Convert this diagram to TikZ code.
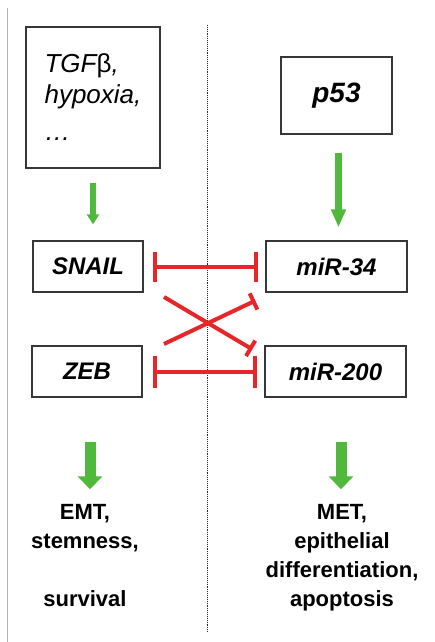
\documentclass[tikz,border=0pt]{standalone}
\usepackage{fontspec}
\setmainfont{Liberation Sans}
\usetikzlibrary{arrows.meta,calc}
\definecolor{actgreen}{RGB}{80,184,58}
\definecolor{inhred}{RGB}{230,38,40}
\definecolor{boxline}{RGB}{55,55,55}
\begin{document}
\begin{tikzpicture}[x=1pt,y=-1pt,
  box/.style={draw=boxline, line width=1.3pt, inner sep=0pt, fill=white},
  gene/.style={box, minimum height=51pt,
    font=\bfseries\itshape\fontsize{24}{28}\selectfont},
  outcome/.style={align=center, inner sep=0pt, anchor=north,
    font=\bfseries\fontsize{22}{29}\selectfont},
  actarrow/.style={draw=actgreen, line width=#1},
  inhib/.style={draw=inhred, line width=4pt},
]
\useasboundingbox[fill=white] (0,0) rectangle (434,642);

% frame edge and the dividing line
\draw[black!30, line width=1pt] (7,8) -- (7,642);
\draw[black!85, densely dotted, line width=0.9pt] (207,25) -- (207,632);

% upstream signals
\node[box, minimum width=134pt, minimum height=141pt, align=left,
      font=\itshape\fontsize{26}{31}\selectfont]
  (tgf) at (93,97.5) {TGF{\upshape β},\\hypoxia,\\[6pt]…};
\node[box, minimum width=111pt, minimum height=77pt,
      font=\bfseries\itshape\fontsize{28}{32}\selectfont]
  (p53) at (336.5,95.5) {p53};

% core loop
\node[gene, minimum width=110pt] (snail) at (88,266.5) {SNAIL};
\node[gene, minimum width=141pt] (mir34) at (336.5,266.5) {miR-34};
\node[gene, minimum width=110pt] (zeb) at (87,371.5) {ZEB};
\node[gene, minimum width=141pt] (mir200) at (335.5,371.5) {miR-200};

% outcomes
\node[outcome] (emt) at (85,504.3) {EMT,\\stemness,\\[29pt]survival};
\node[outcome] (met) at (342,504.3) {MET,\\epithelial\\differentiation,\\apoptosis};

% activation arrows
\draw[actgreen, line width=5.5pt, -{Triangle[width=12pt,length=10pt]},
      shorten <=14pt, shorten >=16pt]
  (tgf.south) -- (tgf.south |- snail.north);
\draw[actgreen, line width=7pt, -{Triangle[width=14pt,length=18pt]},
      shorten <=18pt, shorten >=13pt]
  ([xshift=2pt]p53.south) -- ([xshift=2pt]p53.south |- mir34.north);
\draw[actgreen, line width=11pt, -{Triangle[width=24pt,length=13pt]},
      shorten <=44pt, shorten >=15pt]
  ([xshift=3pt]zeb.south) -- ([xshift=3pt]zeb.south |- emt.north);
\draw[actgreen, line width=11pt, -{Triangle[width=24pt,length=13pt]},
      shorten <=44pt, shorten >=15pt]
  ([xshift=5.5pt]mir200.south) -- ([xshift=5.5pt]mir200.south |- met.north);

% mutual inhibition
\draw[inhib, {Bar[width=30pt]}-{Bar[width=30pt]},
      shorten <=9pt, shorten >=7pt] (snail.east) -- (mir34.west);
\draw[inhib, {Bar[width=32pt]}-{Bar[width=32pt]},
      shorten <=10pt, shorten >=7pt] (zeb.east) -- (mir200.west);

\coordinate (x1) at (164,297);
\coordinate (x2) at (164,344);
\draw[inhib, -{Bar[width=18pt]}] (x1) -- ($(mir200.north west)+(-12,4)$);
\draw[inhib, -{Bar[width=18pt]}] (x2) -- ($(mir34.south west)+(-10,8)$);
\end{tikzpicture}
\end{document}
